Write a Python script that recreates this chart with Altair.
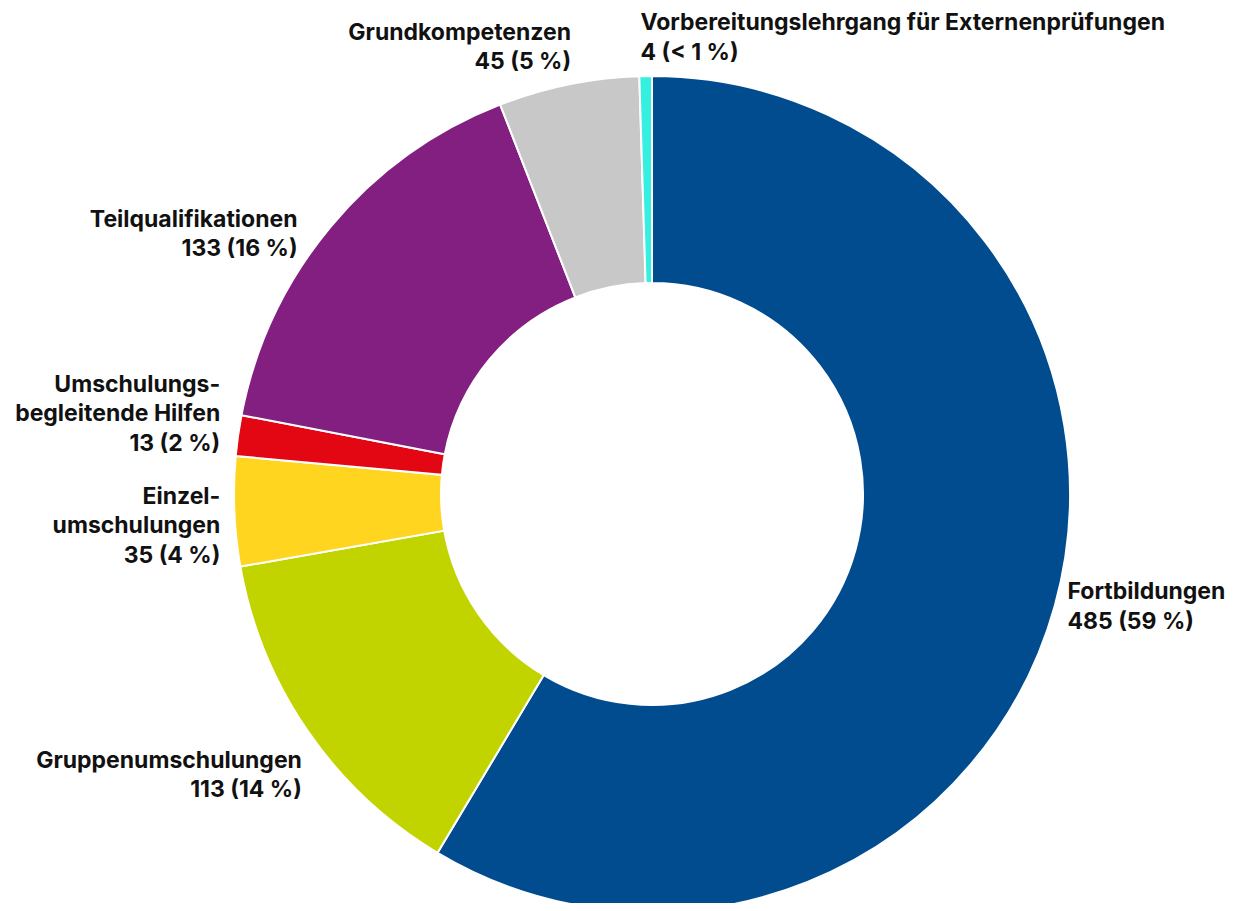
import altair as alt
import pandas as pd

categories = [
    "Fortbildungen",
    "Gruppenumschulungen",
    "Einzelumschulungen",
    "Umschulungsbegleitende Hilfen",
    "Teilqualifikationen",
    "Grundkompetenzen",
    "Vorbereitungslehrgang für Externenprüfungen",
]
values = [485, 113, 35, 13, 133, 45, 4]
labels = [
    "Fortbildungen\n485 (59 %)",
    "Gruppenumschulungen\n113 (14 %)",
    "Einzel-\numschulungen\n35 (4 %)",
    "Umschulungs-\nbegleitende Hilfen\n13 (2 %)",
    "Teilqualifikationen\n133 (16 %)",
    "Grundkompetenzen\n45 (5 %)",
    "Vorbereitungslehrgang für Externenprüfungen\n4 (< 1 %)",
]
colors = ["#004C8F", "#C2D400", "#FFD520", "#E30613", "#821F80", "#C8C8C8", "#35EFE0"]

df = pd.DataFrame({
    "idx": list(range(len(categories))),
    "category": categories,
    "value": values,
    "label": labels,
})

W, H = 1219, 895
CX, CY = 644, 486
R_OUT, R_IN = 418, 211
R_LABEL = 430

base = alt.Chart(df)

arcs = base.mark_arc(
    radius=R_OUT, innerRadius=R_IN, stroke="white", strokeWidth=2
).encode(
    x=alt.value(CX),
    y=alt.value(CY),
    theta=alt.Theta("value:Q", stack=True),
    order=alt.Order("idx:Q"),
    color=alt.Color("category:N", scale=alt.Scale(domain=categories, range=colors), legend=None),
)

lab_base = base.transform_window(
    cum="sum(value)", sort=[alt.SortField("idx")], frame=[None, 0]
).transform_joinaggregate(
    total="sum(value)"
).transform_calculate(
    ang="2*PI*(datum.cum - datum.value/2)/datum.total"
)

# per-label placement style: (align, dx, dy)
label_style = {
    "Fortbildungen": ("left", 1, -16),
    "Gruppenumschulungen": ("right", 4, 23),
    "Einzelumschulungen": ("right", -2, -15),
    "Umschulungsbegleitende Hilfen": ("right", -6, -49),
    "Teilqualifikationen": ("right", -24, 1),
    "Grundkompetenzen": ("right", 5, -40),
    "Vorbereitungslehrgang für Externenprüfungen": ("left", -5, -41),
}

layers = [arcs]
for cat in categories:
    align, dx, dy = label_style[cat]
    layers.append(
        lab_base.transform_filter(alt.datum.category == cat).mark_text(
            radius=R_LABEL, align=align, baseline="middle", dx=dx, dy=dy,
            font="Inter", fontSize=23, fontWeight="bold", lineHeight=29.5,
            lineBreak="\n", color="#111111",
        ).encode(
            x=alt.value(CX),
            y=alt.value(CY),
            theta=alt.Theta("ang:Q", scale=None),
            text="label:N",
        )
    )

chart = alt.layer(*layers).properties(
    width=W, height=H, autosize=alt.AutoSizeParams(type="none"), padding=0
).configure_view(stroke=None)

chart.save("out.html", embed_options={"renderer": "svg", "actions": False})
